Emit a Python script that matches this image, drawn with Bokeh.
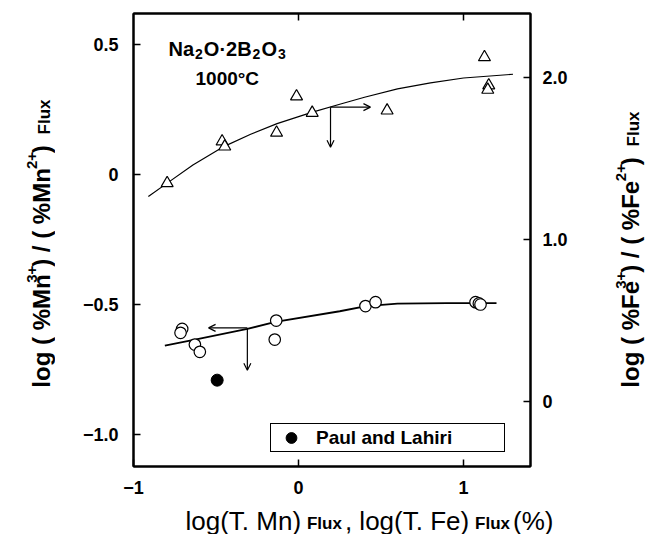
import math

from bokeh.embed import file_html
from bokeh.layouts import column, row
from bokeh.models import Arrow, FixedTicker, Label, LinearAxis, OpenHead, Range1d
from bokeh.plotting import figure
from bokeh.resources import INLINE

# ---------------------------------------------------------------- data
# Mn: log(%Mn3+/%Mn2+) against log(T.Mn), open circles (left axis)
mn_x = [-0.705, -0.715, -0.628, -0.598, -0.135, -0.144, 0.406, 0.467, 1.073, 1.093, 1.103]
mn_y = [-0.594, -0.609, -0.654, -0.682, -0.562, -0.635, -0.506, -0.491, -0.491, -0.496, -0.500]

# Paul and Lahiri, filled circle (left axis)
pl_x = [-0.493]
pl_y = [-0.791]

# Fe: log(%Fe3+/%Fe2+) against log(T.Fe), open triangles (right axis)
fe_x = [-0.796, -0.463, -0.447, -0.133, -0.012, 0.083, 0.537, 1.127, 1.153, 1.147]
fe_y = [1.348, 1.605, 1.574, 1.659, 1.883, 1.782, 1.796, 2.125, 1.951, 1.924]

# hand-fitted trend curves
mn_fit_x = [-0.81, -0.62, -0.31, -0.14, 0.25, 0.41, 0.60, 0.90, 1.20]
mn_fit_y = [-0.658, -0.634, -0.594, -0.567, -0.526, -0.506, -0.497, -0.495, -0.495]
fe_fit_x = [-0.91, -0.80, -0.64, -0.45, -0.29, -0.13, 0.08, 0.25, 0.40, 0.60, 0.80, 1.00, 1.30]
fe_fit_y = [1.265, 1.345, 1.46, 1.575, 1.65, 1.715, 1.785, 1.835, 1.878, 1.93, 1.967, 1.997, 2.02]

# arrows telling which curve belongs to which axis
mn_arrow_corner = (-0.31, -0.59)
mn_arrow_left_end = -0.545
mn_arrow_down_end = -0.753
fe_arrow_corner = (0.194, 1.817)
fe_arrow_right_end = 0.436
fe_arrow_down_end = 1.570

# axes
x_range = (-1.0, 1.406)
mn_range = (-1.123, 0.619)
fe_range = (-0.401, 2.395)
x_ticks = [-1, 0, 1]
x_tick_labels = ["\u22121", "0", "1"]
mn_ticks = [-1.0, -0.5, 0.0, 0.5]
mn_tick_labels = ["\u22121.0", "\u22120.5", "0", "0.5"]
fe_ticks = [0.0, 1.0, 2.0]
fe_tick_labels = ["0", "1.0", "2.0"]
top_ticks = [0, 1]

# ---------------------------------------------------------------- layout
WIDTH, HEIGHT = 648, 534
LEFT_W, RIGHT_W, BOTTOM_H = 55, 48, 34          # side strips holding axis titles
MAIN_W, MAIN_H = WIDTH - LEFT_W - RIGHT_W, HEIGHT - BOTTOM_H
FRAME_L, FRAME_R, FRAME_T, FRAME_B = 133, 530, 13, 466   # page pixels
SANS = "Liberation Sans"

# Arial-compatible advance widths (1/1000 em) for laying out text runs
BOLD_W = {" ": 278, "(": 333, ")": 333, "%": 889, "/": 278, "+": 584, "l": 278,
          "o": 611, "g": 611, "M": 833, "n": 611, "F": 611, "e": 556, "u": 611,
          "x": 556, "N": 722, "a": 556, "O": 778, "\u00b7": 333, "B": 722,
          "\u00b0": 400, "C": 722}
REG_W = {" ": 278, "(": 333, ")": 333, ",": 278, ".": 278, "%": 889, "l": 222,
         "o": 556, "g": 556, "T": 611, "M": 833, "n": 556, "F": 611, "e": 556}


def text_width(s, size, bold):
    table = BOLD_W if bold else REG_W
    return sum(table.get(c, 556) for c in s) * size / 1000.0


p = figure(width=MAIN_W, height=MAIN_H,
           x_range=Range1d(*x_range), y_range=Range1d(*mn_range),
           output_backend="svg", toolbar_location=None,
           min_border_left=FRAME_L - LEFT_W, min_border_right=LEFT_W + MAIN_W - FRAME_R,
           min_border_top=FRAME_T, min_border_bottom=MAIN_H - FRAME_B,
           background_fill_color="white", border_fill_color="white",
           outline_line_color="black", outline_line_width=2)
p.extra_y_ranges = {"fe": Range1d(*fe_range)}
p.xgrid.visible = False
p.ygrid.visible = False


def style_axis(ax, ticks, labels, standoff):
    ax.ticker = FixedTicker(ticks=ticks)
    ax.major_label_overrides = {t: lab for t, lab in zip(ticks, labels)}
    ax.major_tick_in = 7
    ax.major_tick_out = 0
    ax.minor_tick_line_color = None
    ax.major_tick_line_width = 1.5
    ax.major_tick_line_color = "black"
    ax.axis_line_width = 2
    ax.axis_line_color = "black"
    ax.major_label_standoff = standoff
    ax.major_label_text_font = SANS
    ax.major_label_text_font_style = "bold"
    ax.major_label_text_font_size = "18px"
    ax.major_label_text_color = "black"


style_axis(p.xaxis[0], x_ticks, x_tick_labels, 14)
style_axis(p.yaxis[0], mn_ticks, mn_tick_labels, 15)

fe_axis = LinearAxis(y_range_name="fe")
style_axis(fe_axis, fe_ticks, fe_tick_labels, 12)
p.add_layout(fe_axis, "right")

top_axis = LinearAxis()
style_axis(top_axis, top_ticks, ["", ""], 0)
top_axis.major_label_text_font_size = "0px"
p.add_layout(top_axis, "above")

# ---------------------------------------------------------------- marks
p.line(mn_fit_x, mn_fit_y, line_color="black", line_width=1.8)
p.line(fe_fit_x, fe_fit_y, line_color="black", line_width=1.2, y_range_name="fe")

p.scatter(fe_x, fe_y, marker="triangle", size=12, fill_color="white",
          line_color="black", line_width=1.2, y_range_name="fe")
p.scatter(mn_x, mn_y, marker="circle", size=11.5, fill_color="white",
          line_color="black", line_width=1.2)
p.scatter(pl_x, pl_y, marker="circle", size=12, fill_color="black",
          line_color="black", legend_label="Paul and Lahiri")

head = dict(size=7, line_width=1.2, line_color="black")
p.add_layout(Arrow(x_start=mn_arrow_corner[0], y_start=mn_arrow_corner[1],
                   x_end=mn_arrow_left_end, y_end=mn_arrow_corner[1],
                   end=OpenHead(**head), line_width=1.2))
p.add_layout(Arrow(x_start=mn_arrow_corner[0], y_start=mn_arrow_corner[1],
                   x_end=mn_arrow_corner[0], y_end=mn_arrow_down_end,
                   end=OpenHead(**head), line_width=1.2))
p.add_layout(Arrow(x_start=fe_arrow_corner[0], y_start=fe_arrow_corner[1],
                   x_end=fe_arrow_right_end, y_end=fe_arrow_corner[1],
                   end=OpenHead(**head), line_width=1.2, y_range_name="fe"))
p.add_layout(Arrow(x_start=fe_arrow_corner[0], y_start=fe_arrow_corner[1],
                   x_end=fe_arrow_corner[0], y_end=fe_arrow_down_end,
                   end=OpenHead(**head), line_width=1.2, y_range_name="fe"))

leg = p.legend[0]
leg.location = (270 - FRAME_L, FRAME_B - 452)
leg.padding = 0
leg.margin = 0
leg.spacing = 0
leg.glyph_width = 40
leg.glyph_height = 27
leg.label_height = 27
leg.label_width = 188
leg.label_standoff = 5
leg.border_line_color = "black"
leg.border_line_alpha = 1.0
leg.border_line_width = 1.5
leg.background_fill_color = "white"
leg.background_fill_alpha = 1.0
leg.label_text_font = SANS
leg.label_text_font_style = "bold"
leg.label_text_font_size = "19px"
leg.label_text_color = "black"


# ---------------------------------------------------------------- texts
def main_pos(px, py):
    """Page pixels -> data coordinates of the main plot."""
    x = x_range[0] + (px - FRAME_L) / (FRAME_R - FRAME_L) * (x_range[1] - x_range[0])
    y = mn_range[1] - (py - FRAME_T) / (FRAME_B - FRAME_T) * (mn_range[1] - mn_range[0])
    return x, y


def strip(w, h):
    f = figure(width=w, height=h, x_range=Range1d(0, w), y_range=Range1d(0, h),
               output_backend="svg", toolbar_location=None, min_border=0,
               x_axis_location=None, y_axis_location=None,
               background_fill_color="white", border_fill_color="white",
               outline_line_color=None)
    f.grid.visible = False
    return f


left_fig = strip(LEFT_W, MAIN_H)
right_fig = strip(RIGHT_W, MAIN_H)
bottom_fig = strip(WIDTH, BOTTOM_H)


def strip_pos(fig, ox, oy):
    h = fig.height
    return lambda px, py: (px - ox, h - (py - oy))


PANELS = {
    "main": (p, main_pos),
    "left": (left_fig, strip_pos(left_fig, 0, 0)),
    "right": (right_fig, strip_pos(right_fig, LEFT_W + MAIN_W, 0)),
    "bottom": (bottom_fig, strip_pos(bottom_fig, 0, MAIN_H)),
}


def add_text(panel, text, px, py, size, bold=True, angle=0.0):
    fig, pos = PANELS[panel]
    x, y = pos(px, py)
    fig.add_layout(Label(x=x, y=y, text=text,
                         text_font=SANS, text_font_size=f"{size}px",
                         text_font_style="bold" if bold else "normal",
                         text_color="black", angle=angle,
                         text_align="left", text_baseline="alphabetic"))


def run_horizontal(panel, pieces, px, py, gap=1.0):
    for text, size, bold, rise in pieces:
        add_text(panel, text, px, py - rise, size, bold)
        px += text_width(text, size, bold) + gap


def run_vertical(panel, pieces, px, py):
    # text reading upwards; "rise" moves a piece towards the glyph tops (left)
    for text, size, bold, rise, gap in pieces:
        py -= gap
        add_text(panel, text, px - rise, py, size, bold, angle=math.pi / 2)
        py -= text_width(text, size, bold)


run_horizontal("main", [("Na", 20, True, 0), ("2", 14, True, -5), ("O\u00b72B", 20, True, 0),
                        ("2", 14, True, -5), ("O", 20, True, 0), ("3", 14, True, -5)], 168, 48)
add_text("main", "1000\u00b0C", 195, 78, 19)


def ratio_title(element):
    return [("log ( %" + element, 24, True, 0, 0), ("3+", 15, True, 10, 2.5),
            (" ) / ( %" + element, 24, True, 0, 0.5), ("2+", 15, True, 10, 2.5),
            (" )", 24, True, 0, 0.5), ("Flux", 17, True, -3, 6)]


run_vertical("left", ratio_title("Mn"), 41, 413)
run_vertical("right", ratio_title("Fe"), 630, 413)

run_horizontal("bottom", [("log(T. Mn)", 26, False, 0), ("Flux", 17, True, -3),
                          (", log(T. Fe)", 26, False, 0), ("Flux", 17, True, -3),
                          ("(%)", 26, False, 0)], 185, 520, gap=3)

page = column(row(left_fig, p, right_fig), bottom_fig)
open("out.html", "w").write(file_html(page, INLINE))
